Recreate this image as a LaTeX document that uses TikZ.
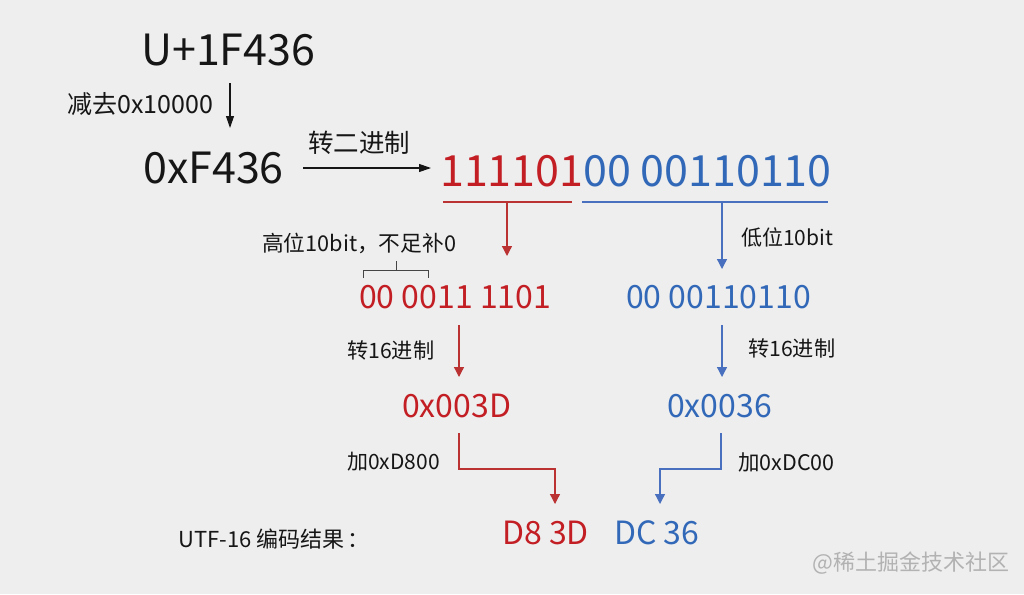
\documentclass[tikz,border=0pt]{standalone}
\usepackage{fontspec}
\setmainfont{Noto Sans CJK SC}
\usetikzlibrary{arrows.meta}
\definecolor{bg}{RGB}{238,238,238}
\definecolor{myred}{RGB}{194,30,36}
\definecolor{myblue}{RGB}{50,104,184}
\definecolor{linered}{RGB}{186,50,50}
\definecolor{lineblue}{RGB}{72,112,190}
\definecolor{wm}{RGB}{178,178,178}
\definecolor{txt}{RGB}{22,22,22}
\begin{document}
\begin{tikzpicture}[x=1pt,y=-1pt,
  big/.style={font=\fontsize{43}{43}\selectfont, inner sep=0pt, anchor=base west, text=txt},
  mid/.style={font=\fontsize{32}{32}\selectfont, inner sep=0pt, anchor=base west},
  lbl/.style={font=\fontsize{22}{22}\selectfont, inner sep=0pt, anchor=west, text=txt},
  blkarrow/.style={-{Triangle[length=12pt,width=8pt]}, draw=txt, line width=1.1pt},
  redarrow/.style={-{Triangle[length=10pt,width=10pt]}, draw=linered, line width=1.3pt},
  bluearrow/.style={-{Triangle[length=10pt,width=10pt]}, draw=lineblue, line width=1.3pt},
  redline/.style={draw=linered, line width=1.3pt},
  blueline/.style={draw=lineblue, line width=1.3pt},
  bracket/.style={draw=txt!80, line width=1pt}
]
\fill[bg] (0,0) rectangle (1024,594);
\useasboundingbox (0,0) rectangle (1024,594);

% top
\node[big] (u) at (141,65) {U+1F436};
\node[lbl, font=\fontsize{25}{25}\selectfont] (sub) at (67,104) {减去0x10000};
\coordinate (a1s) at (230,83);
\coordinate (a1e) at (230,128);
\draw[blkarrow] (a1s) -- (a1e);

\node[big] (f436) at (143,183) {0xF436};
\node[lbl, font=\fontsize{25.5}{25.5}\selectfont] (tobin) at (308,143) {转二进制};
\coordinate (a2s) at (303,168);
\coordinate (a2e) at (431,168);
\draw[blkarrow] (a2s) -- (a2e);

\node[big] (bin) at (440,186) {\textcolor{myred}{111101}\textcolor{myblue}{00 00110110}};

% split lines
\coordinate (rl1) at (443,202);
\coordinate (rl2) at (572,202);
\coordinate (bl1) at (582,202);
\coordinate (bl2) at (828,202);
\draw[redline] (rl1) -- (rl2);
\draw[blueline] (bl1) -- (bl2);

\coordinate (ra1s) at (507,202);
\coordinate (ra1e) at (507,256);
\coordinate (ba1s) at (722,202);
\coordinate (ba1e) at (722,269);
\draw[redarrow] (ra1s) -- (ra1e);
\draw[bluearrow] (ba1s) -- (ba1e);

\node[lbl, font=\fontsize{21.7}{21.7}\selectfont] (hi10) at (262,243) {高位10bit，不足补0};
\node[lbl, font=\fontsize{21}{21}\selectfont] (lo10) at (741,237) {低位10bit};

% bracket
\coordinate (bk1) at (363,278);
\coordinate (bk2) at (363,270);
\coordinate (bk3) at (428,270);
\coordinate (bk4) at (428,278);
\coordinate (bkm) at (396,270);
\coordinate (bkt) at (396,261);
\draw[bracket] (bk1) -- (bk2) -- (bk3) -- (bk4);
\draw[bracket] (bkm) -- (bkt);

\node[mid, text=myred] (hb) at (359,308) {00 0011 1101};
\node[mid, text=myblue] (lb) at (626,308) {00 00110110};

\coordinate (ra2s) at (459,325);
\coordinate (ra2e) at (459,377);
\coordinate (ba2s) at (722,325);
\coordinate (ba2e) at (722,377);
\draw[redarrow] (ra2s) -- (ra2e);
\draw[bluearrow] (ba2s) -- (ba2e);

\node[lbl, font=\fontsize{21.2}{21.2}\selectfont] (h16a) at (347,350) {转16进制};
\node[lbl, font=\fontsize{21.2}{21.2}\selectfont] (h16b) at (748,348) {转16进制};

\node[mid, text=myred] (hh) at (402,417) {0x003D};
\node[mid, text=myblue] (lh) at (667,417) {0x0036};

% elbows
\coordinate (re1) at (459,433);
\coordinate (re2) at (459,469);
\coordinate (re3) at (555,469);
\coordinate (re4) at (555,504);
\draw[redarrow] (re1) -- (re2) -- (re3) -- (re4);
\coordinate (be1) at (721,433);
\coordinate (be2) at (721,469);
\coordinate (be3) at (660,469);
\coordinate (be4) at (660,504);
\draw[bluearrow] (be1) -- (be2) -- (be3) -- (be4);

\node[lbl, font=\fontsize{21}{21}\selectfont] (d800) at (347,462) {加0xD800};
\node[lbl, font=\fontsize{21.5}{21.5}\selectfont] (dc00) at (738,462) {加0xDC00};

% result
\node[lbl] (res) at (178,539) {UTF-16 编码结果\hspace{0.15em}：};
\node[mid, text=myred] (r1) at (502,544) {D8 3D};
\node[mid, text=myblue] (r2) at (614,544) {DC 36};

\node[lbl, text=wm, font=\fontsize{22}{22}\selectfont] (wmk) at (812,563) {@稀土掘金技术社区};
\end{tikzpicture}
\end{document}
